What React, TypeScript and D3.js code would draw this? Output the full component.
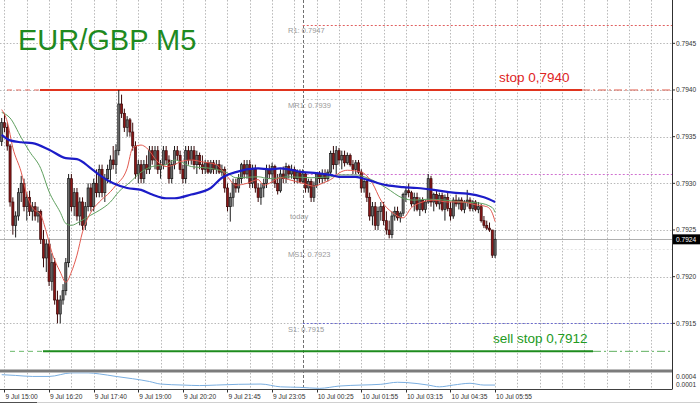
import React from 'react';
import * as d3 from 'd3';

// ---------- DATA ----------
const title = 'EUR/GBP M5';
const priceTicks = [0.7945, 0.794, 0.7935, 0.793, 0.7925, 0.792, 0.7915, 0.791];
const timeLabels = ['9 Jul 15:00', '9 Jul 16:20', '9 Jul 17:40', '9 Jul 19:00', '9 Jul 20:20', '9 Jul 21:45',
  '9 Jul 23:05', '10 Jul 00:25', '10 Jul 01:55', '10 Jul 03:15', '10 Jul 04:35', '10 Jul 05:55'];
const timeLabelBars = [1, 17, 33, 49, 65, 81, 97, 113, 129, 145, 161, 177];
const indicatorTicks = [0.0004, 0.0001];
const currentPrice = 0.7924;
const stopPrice = 0.794;
const sellStopPrice = 0.7912;
const daySeparatorBar = 108;

// [open, high, low, close]
const candles: number[][] = [
  [0.79345,0.79370,0.79340,0.79365],[0.79365,0.79375,0.79355,0.79360],[0.79360,0.79365,0.79335,0.79340],
  [0.79340,0.79342,0.79275,0.79280],[0.79280,0.79285,0.79245,0.79255],[0.79255,0.79270,0.79242,0.79265],
  [0.79265,0.79295,0.79260,0.79290],[0.79290,0.79308,0.79280,0.79300],[0.79300,0.79305,0.79270,0.79275],
  [0.79275,0.79290,0.79260,0.79285],[0.79285,0.79292,0.79265,0.79270],[0.79270,0.79280,0.79260,0.79275],
  [0.79275,0.79280,0.79260,0.79265],[0.79265,0.79275,0.79258,0.79270],[0.79270,0.79272,0.79235,0.79240],
  [0.79240,0.79250,0.79210,0.79220],[0.79220,0.79240,0.79205,0.79235],[0.79235,0.79240,0.79190,0.79195],
  [0.79195,0.79225,0.79185,0.79215],[0.79215,0.79220,0.79170,0.79175],[0.79175,0.79185,0.79150,0.79160],
  [0.79160,0.79180,0.79150,0.79175],[0.79175,0.79192,0.79170,0.79185],[0.79185,0.79220,0.79180,0.79215],
  [0.79215,0.79310,0.79210,0.79305],[0.79305,0.79310,0.79270,0.79275],[0.79275,0.79295,0.79265,0.79290],
  [0.79290,0.79295,0.79260,0.79265],[0.79265,0.79285,0.79255,0.79280],[0.79280,0.79285,0.79250,0.79255],
  [0.79255,0.79280,0.79250,0.79275],[0.79275,0.79300,0.79270,0.79295],[0.79295,0.79300,0.79270,0.79275],
  [0.79275,0.79305,0.79270,0.79300],[0.79300,0.79315,0.79285,0.79290],[0.79290,0.79320,0.79285,0.79315],
  [0.79315,0.79320,0.79285,0.79290],[0.79290,0.79310,0.79280,0.79305],[0.79305,0.79320,0.79300,0.79315],
  [0.79315,0.79330,0.79300,0.79325],[0.79325,0.79340,0.79315,0.79320],[0.79320,0.79342,0.79310,0.79335],
  [0.79335,0.79400,0.79330,0.79385],[0.79385,0.79395,0.79370,0.79375],[0.79375,0.79380,0.79355,0.79360],
  [0.79360,0.79372,0.79350,0.79368],[0.79368,0.79370,0.79350,0.79355],[0.79355,0.79365,0.79335,0.79340],
  [0.79340,0.79345,0.79305,0.79310],[0.79310,0.79325,0.79300,0.79320],[0.79320,0.79325,0.79300,0.79305],
  [0.79305,0.79325,0.79300,0.79320],[0.79320,0.79330,0.79310,0.79315],[0.79315,0.79340,0.79310,0.79335],
  [0.79335,0.79340,0.79320,0.79325],[0.79325,0.79340,0.79315,0.79335],[0.79335,0.79340,0.79310,0.79315],
  [0.79315,0.79325,0.79305,0.79320],[0.79320,0.79340,0.79315,0.79335],[0.79335,0.79340,0.79320,0.79325],
  [0.79325,0.79330,0.79300,0.79305],[0.79305,0.79325,0.79300,0.79320],[0.79320,0.79340,0.79315,0.79335],
  [0.79335,0.79340,0.79325,0.79330],[0.79330,0.79335,0.79310,0.79315],[0.79315,0.79320,0.79300,0.79305],
  [0.79305,0.79340,0.79300,0.79335],[0.79335,0.79340,0.79320,0.79325],[0.79325,0.79340,0.79320,0.79335],
  [0.79335,0.79340,0.79315,0.79320],[0.79320,0.79335,0.79310,0.79330],[0.79330,0.79333,0.79315,0.79320],
  [0.79320,0.79330,0.79310,0.79315],[0.79315,0.79325,0.79310,0.79322],[0.79322,0.79325,0.79310,0.79312],
  [0.79312,0.79325,0.79310,0.79322],[0.79322,0.79325,0.79310,0.79315],[0.79315,0.79325,0.79310,0.79320],
  [0.79320,0.79325,0.79310,0.79312],[0.79312,0.79320,0.79308,0.79315],[0.79315,0.79318,0.79290,0.79295],
  [0.79295,0.79300,0.79270,0.79275],[0.79275,0.79290,0.79259,0.79285],[0.79285,0.79305,0.79275,0.79300],
  [0.79300,0.79305,0.79290,0.79295],[0.79295,0.79310,0.79290,0.79305],[0.79305,0.79322,0.79300,0.79320],
  [0.79320,0.79325,0.79305,0.79310],[0.79310,0.79325,0.79305,0.79320],[0.79320,0.79325,0.79295,0.79300],
  [0.79300,0.79320,0.79295,0.79315],[0.79315,0.79320,0.79290,0.79295],[0.79295,0.79300,0.79280,0.79285],
  [0.79285,0.79300,0.79277,0.79295],[0.79295,0.79305,0.79285,0.79300],[0.79300,0.79320,0.79295,0.79315],
  [0.79315,0.79320,0.79305,0.79310],[0.79310,0.79322,0.79300,0.79318],[0.79318,0.79320,0.79295,0.79300],
  [0.79300,0.79310,0.79288,0.79292],[0.79292,0.79315,0.79290,0.79310],[0.79310,0.79318,0.79300,0.79305],
  [0.79305,0.79322,0.79300,0.79318],[0.79318,0.79320,0.79305,0.79310],[0.79310,0.79320,0.79305,0.79315],
  [0.79315,0.79318,0.79300,0.79305],[0.79305,0.79315,0.79300,0.79312],[0.79312,0.79315,0.79300,0.79302],
  [0.79302,0.79315,0.79300,0.79310],[0.79310,0.79312,0.79290,0.79295],[0.79295,0.79305,0.79290,0.79302],
  [0.79302,0.79305,0.79280,0.79285],[0.79285,0.79302,0.79280,0.79298],[0.79298,0.79312,0.79295,0.79310],
  [0.79310,0.79313,0.79300,0.79305],[0.79305,0.79315,0.79300,0.79310],[0.79310,0.79315,0.79302,0.79305],
  [0.79305,0.79315,0.79302,0.79312],[0.79312,0.79335,0.79310,0.79332],[0.79332,0.79340,0.79315,0.79320],
  [0.79320,0.79340,0.79310,0.79335],[0.79335,0.79338,0.79320,0.79325],[0.79325,0.79335,0.79315,0.79330],
  [0.79330,0.79335,0.79318,0.79322],[0.79322,0.79333,0.79320,0.79330],[0.79330,0.79332,0.79318,0.79320],
  [0.79320,0.79325,0.79310,0.79315],[0.79315,0.79325,0.79310,0.79322],[0.79322,0.79325,0.79310,0.79312],
  [0.79312,0.79315,0.79290,0.79295],[0.79295,0.79305,0.79290,0.79302],[0.79302,0.79305,0.79280,0.79285],
  [0.79285,0.79290,0.79260,0.79265],[0.79265,0.79280,0.79255,0.79275],[0.79275,0.79280,0.79250,0.79255],
  [0.79255,0.79275,0.79250,0.79270],[0.79270,0.79280,0.79260,0.79275],[0.79275,0.79280,0.79255,0.79260],
  [0.79260,0.79270,0.79245,0.79250],[0.79250,0.79260,0.79241,0.79245],[0.79245,0.79270,0.79241,0.79265],
  [0.79265,0.79275,0.79260,0.79270],[0.79270,0.79275,0.79260,0.79263],[0.79263,0.79270,0.79258,0.79268],
  [0.79268,0.79290,0.79265,0.79288],[0.79288,0.79295,0.79280,0.79292],[0.79292,0.79300,0.79285,0.79290],
  [0.79290,0.79292,0.79275,0.79278],[0.79278,0.79290,0.79270,0.79285],[0.79285,0.79290,0.79270,0.79272],
  [0.79272,0.79285,0.79265,0.79282],[0.79282,0.79285,0.79270,0.79272],[0.79272,0.79282,0.79268,0.79280],
  [0.79280,0.79310,0.79278,0.79305],[0.79305,0.79308,0.79275,0.79280],[0.79280,0.79290,0.79270,0.79288],
  [0.79288,0.79292,0.79275,0.79278],[0.79278,0.79290,0.79272,0.79287],[0.79287,0.79290,0.79270,0.79272],
  [0.79272,0.79288,0.79260,0.79285],[0.79285,0.79290,0.79270,0.79273],[0.79273,0.79280,0.79260,0.79265],
  [0.79265,0.79285,0.79262,0.79282],[0.79282,0.79288,0.79275,0.79278],[0.79278,0.79285,0.79272,0.79282],
  [0.79282,0.79285,0.79270,0.79272],[0.79272,0.79282,0.79268,0.79280],[0.79280,0.79293,0.79275,0.79282],
  [0.79282,0.79285,0.79270,0.79273],[0.79273,0.79282,0.79270,0.79280],[0.79280,0.79282,0.79270,0.79272],
  [0.79272,0.79280,0.79268,0.79275],[0.79275,0.79278,0.79258,0.79260],[0.79260,0.79265,0.79252,0.79255],
  [0.79255,0.79260,0.79250,0.79252],[0.79252,0.79258,0.79248,0.79250],[0.79250,0.79250,0.79220,0.79223],
  [0.79223,0.79250,0.79220,0.79240],
];

// moving averages: [bar index, price]
const maSlowBlue: number[][] = [
  [0,0.79352],[3,0.79346],[7,0.79344],[11,0.79343],[17,0.79336],[23,0.79327],[27,0.79326],[32,0.79316],
  [35,0.79309],[40,0.79300],[45,0.79295],[50,0.79293],[54,0.79288],[59,0.79284],[62,0.79284],[68,0.79288],
  [75,0.79295],[79,0.79306],[84,0.79312],[92,0.79316],[96,0.79315],[100,0.79316],[103,0.79315],[108,0.79312],
  [113,0.79311],[118,0.79309],[121,0.79307],[127,0.79307],[131,0.79304],[138,0.79298],[144,0.79296],
  [149,0.79295],[155,0.79293],[162,0.79290],[167,0.79289],[173,0.79285],[177,0.79280],
];
const maFastRed: number[][] = [
  [0,0.79379],[2,0.79366],[4,0.79338],[7,0.79312],[9,0.79288],[11,0.79274],[14,0.79266],[16,0.79248],
  [18,0.79226],[21,0.79205],[23,0.79194],[25,0.79205],[27,0.79223],[29,0.79248],[32,0.79269],[35,0.79280],
  [39,0.79291],[41,0.79298],[45,0.79316],[47,0.79338],[50,0.79341],[52,0.79338],[56,0.79323],[59,0.79318],
  [62,0.79320],[64,0.79323],[68,0.79325],[72,0.79323],[77,0.79320],[81,0.79307],[84,0.79298],[88,0.79300],
  [92,0.79304],[94,0.79298],[96,0.79300],[100,0.79306],[103,0.79304],[108,0.79300],[112,0.79297],
  [115,0.79300],[119,0.79306],[121,0.79311],[124,0.79314],[129,0.79312],[133,0.79300],[136,0.79282],
  [140,0.79269],[144,0.79263],[147,0.79274],[151,0.79280],[155,0.79282],[160,0.79280],[165,0.79280],
  [170,0.79277],[174,0.79275],[176,0.79268],[177,0.79259],
];
const maMidGreen: number[][] = [
  [0,0.79376],[3,0.79370],[7,0.79349],[10,0.79334],[14,0.79316],[17,0.79291],[21,0.79269],[23,0.79257],
  [25,0.79255],[28,0.79259],[32,0.79266],[35,0.79271],[39,0.79280],[42,0.79291],[46,0.79301],[50,0.79312],
  [54,0.79318],[59,0.79320],[62,0.79325],[68,0.79318],[75,0.79316],[81,0.79311],[84,0.79306],[92,0.79307],
  [96,0.79305],[103,0.79307],[111,0.79306],[118,0.79307],[121,0.79309],[127,0.79309],[131,0.79306],
  [138,0.79295],[144,0.79284],[148,0.79282],[153,0.79283],[159,0.79282],[165,0.79280],[171,0.79279],
  [176,0.79274],[177,0.79269],
];
const indicator: number[][] = [
  [0,0.00048],[5,0.00045],[11,0.00041],[17,0.00041],[25,0.00055],[31,0.00055],[35,0.00051],[41,0.00041],
  [47,0.00032],[53,0.00021],[57,0.00011],[65,0.00007],[71,0.00005],[77,0.00007],[85,0.0001],[93,0.00011],
  [100,0.0],[107,-0.00002],[114,-0.00006],[121,0.00003],[129,0.00007],[136,0.0001],[142,0.00018],
  [145,0.00017],[153,0.00007],[157,0.0],[162,0.00007],[168,0.00014],[173,0.00007],[177,0.00007],
];
const pivots = [
  { label: 'R1: 0.7947', value: 0.7947, color: '#e06060', dash: '2,2' },
  { label: 'MR1: 0.7939', value: 0.7939, color: '#c8c8c8', dash: '2,2' },
  { label: 'MS1: 0.7923', value: 0.7923, color: '#e4e4e4', dash: '2,2' },
  { label: 'S1: 0.7915', value: 0.7915, color: '#6a6ad0', dash: '2,2' },
];
const pivotCenter = 0.7931;

// ---------- LAYOUT ----------
const W = 700, H = 404;
const RIGHT = 672;
const MAIN_BOTTOM = 369.5;
const IND_TOP = 372.5;
const IND_BOTTOM = 389.5;
const FONT = '"Liberation Sans", Arial, sans-serif';

const x = d3.scaleLinear().domain([0, 177]).range([1.7, 495.1]);
const y = d3.scaleLinear().domain([0.7915, 0.7945]).range([323.33, 43.33]);
const yi = d3.scaleLinear().domain([0.0001, 0.0004]).range([384.3, 376.7]);

const lineMain = d3.line<number[]>().x(d => x(d[0])).y(d => y(d[1])).curve(d3.curveMonotoneX);
const lineInd = d3.line<number[]>().x(d => x(d[0])).y(d => yi(d[1])).curve(d3.curveMonotoneX);

const gridBars = d3.range(1, 240, 8).filter(b => x(b) < RIGHT - 2);

export default function App() {
  const bodyW = 2.1;
  return (
    <svg width={W} height={H} viewBox={`0 0 ${W} ${H}`}
      style={{ position: 'absolute', left: 0, top: 0, background: '#fff', fontFamily: FONT }}>
      <defs>
        <clipPath id="mainClip"><rect x={0} y={0} width={RIGHT} height={MAIN_BOTTOM} /></clipPath>
        <clipPath id="indClip"><rect x={0} y={IND_TOP} width={RIGHT} height={IND_BOTTOM - IND_TOP} /></clipPath>
      </defs>
      <rect x={0} y={0} width={W} height={H} fill="#fff" />

      {/* grid */}
      <g stroke="#b8b8b8" strokeWidth={1} strokeDasharray="1.5,1.8">
        {gridBars.map(b => (
          <line key={'v' + b} x1={Math.round(x(b)) + 0.5} x2={Math.round(x(b)) + 0.5} y1={0} y2={IND_BOTTOM} />
        ))}
        {priceTicks.filter(p => y(p) > 0 && y(p) < MAIN_BOTTOM - 2).map(p => (
          <line key={'h' + p} x1={0} x2={RIGHT} y1={Math.round(y(p)) + 0.5} y2={Math.round(y(p)) + 0.5} />
        ))}
      </g>

      {/* day separator */}
      <line x1={Math.round(x(daySeparatorBar)) + 0.5} x2={Math.round(x(daySeparatorBar)) + 0.5} y1={0} y2={IND_BOTTOM}
        stroke="#707070" strokeDasharray="3,2" />

      {/* pivot lines */}
      <g clipPath="url(#mainClip)">
        {pivots.map(p => (
          <line key={p.label} x1={x(daySeparatorBar)} x2={RIGHT} y1={Math.round(y(p.value)) + 0.5} y2={Math.round(y(p.value)) + 0.5}
            stroke={p.color} strokeDasharray={p.dash} />
        ))}
        <line x1={x(daySeparatorBar)} x2={RIGHT} y1={Math.round(y(pivotCenter)) + 0.5} y2={Math.round(y(pivotCenter)) + 0.5}
          stroke="#d070d0" strokeDasharray="2,2" />
      </g>
      <g fontSize={7.5} fill="#9a9a9a">
        {pivots.map(p => (
          <text key={'t' + p.label} x={288} y={y(p.value) + 8.5}>{p.label}</text>
        ))}
        <text x={290} y={219}>today</text>
      </g>

      {/* current price line */}
      <line x1={0} x2={RIGHT} y1={Math.round(y(currentPrice)) + 0.5} y2={Math.round(y(currentPrice)) + 0.5} stroke="#b0b0b0" />

      {/* stop line */}
      <g>
        <line x1={7} x2={40} y1={y(stopPrice)} y2={y(stopPrice)} stroke="#e86a60" strokeDasharray="5,4" />
        <line x1={40} x2={582} y1={y(stopPrice)} y2={y(stopPrice)} stroke="#e0341e" strokeWidth={2} />
        <line x1={582} x2={670} y1={y(stopPrice)} y2={y(stopPrice)} stroke="#e06050" strokeDasharray="8,3,2,3" />
        <text x={499} y={y(stopPrice) - 8} fontSize={13.5} fill="#e02424">stop 0,7940</text>
      </g>
      {/* sell stop line */}
      <g>
        <line x1={10} x2={43} y1={y(sellStopPrice)} y2={y(sellStopPrice)} stroke="#6ab86a" strokeDasharray="5,4" />
        <line x1={43} x2={593} y1={y(sellStopPrice)} y2={y(sellStopPrice)} stroke="#1e8c1e" strokeWidth={2} />
        <line x1={593} x2={670} y1={y(sellStopPrice)} y2={y(sellStopPrice)} stroke="#60b060" strokeDasharray="8,3,2,3" />
        <text x={493} y={y(sellStopPrice) - 8} fontSize={13.5} fill="#229a22">sell stop 0,7912</text>
      </g>

      {/* candles */}
      <g clipPath="url(#mainClip)">
        {candles.map((c, i) => {
          const [o, h, l, cl] = c;
          const bull = cl >= o;
          const cx = x(i);
          const top = y(Math.max(o, cl));
          const bot = y(Math.min(o, cl));
          return (
            <g key={i}>
              <line x1={cx} x2={cx} y1={y(h)} y2={y(l)} stroke={bull ? '#1a1a1a' : '#3a0a0a'} strokeWidth={1} />
              <rect x={cx - bodyW / 2} y={top} width={bodyW} height={Math.max(1, bot - top)}
                fill={bull ? '#6c6c6c' : '#8a1616'} stroke={bull ? '#1a1a1a' : '#3a0a0a'} strokeWidth={0.7} />
            </g>
          );
        })}
        <path d={lineMain(maMidGreen) || ''} fill="none" stroke="#5fa05f" strokeWidth={1} />
        <path d={lineMain(maFastRed) || ''} fill="none" stroke="#e25a50" strokeWidth={1} />
        <path d={lineMain(maSlowBlue) || ''} fill="none" stroke="#1c1cc8" strokeWidth={2.2} />
      </g>

      {/* title */}
      <text x={18} y={50} fontSize={29} fill="#1f8a1f">{title}</text>

      {/* separator between panels */}
      <rect x={0} y={MAIN_BOTTOM} width={RIGHT + 1} height={IND_TOP - MAIN_BOTTOM} fill="#7c7c7c" />

      {/* indicator */}
      <g clipPath="url(#indClip)">
        <path d={lineInd(indicator) || ''} fill="none" stroke="#7aaee0" strokeWidth={1} />
      </g>
      <line x1={0} x2={RIGHT} y1={IND_BOTTOM} y2={IND_BOTTOM} stroke="#404040" />

      {/* right axis */}
      <line x1={RIGHT + 0.5} x2={RIGHT + 0.5} y1={0} y2={IND_BOTTOM} stroke="#303030" />
      <g fontSize={6.6} fill="#333">
        {priceTicks.filter(p => y(p) > 4 && y(p) < MAIN_BOTTOM - 4).map(p => (
          <g key={'a' + p}>
            <line x1={RIGHT} x2={RIGHT + 3} y1={y(p)} y2={y(p)} stroke="#303030" />
            <text x={676} y={y(p) + 2.4}>{d3.format('.4f')(p)}</text>
          </g>
        ))}
        {indicatorTicks.map(v => (
          <text key={'i' + v} x={676} y={yi(v) + 2.4}>{d3.format('.4f')(v)}</text>
        ))}
      </g>
      {/* current price box */}
      <rect x={RIGHT + 1} y={y(currentPrice) - 5} width={27} height={10} fill="#000" />
      <text x={676} y={y(currentPrice) + 2.4} fontSize={6.6} fill="#fff">{d3.format('.4f')(currentPrice)}</text>

      {/* time axis */}
      <g fontSize={6.6} fill="#333">
        {timeLabels.map((t, k) => (
          <g key={t}>
            <line x1={Math.round(x(timeLabelBars[k])) + 0.5} x2={Math.round(x(timeLabelBars[k])) + 0.5}
              y1={IND_BOTTOM} y2={IND_BOTTOM + 3} stroke="#303030" />
            <text x={x(timeLabelBars[k]) + 1} y={398.5}>{t}</text>
          </g>
        ))}
      </g>
      <line x1={0} x2={W} y1={402.5} y2={402.5} stroke="#d0d0d0" />
      <line x1={0} x2={37} y1={402.5} y2={402.5} stroke="#505050" />
    </svg>
  );
}
